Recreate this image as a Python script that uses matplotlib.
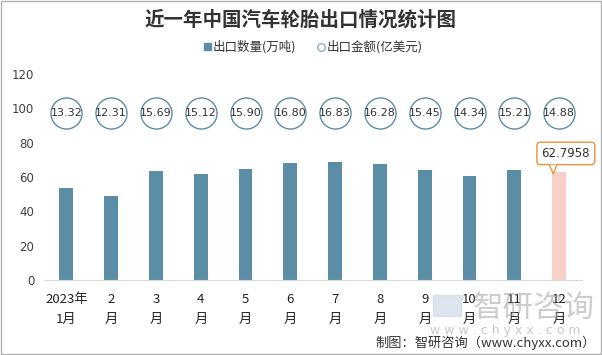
import matplotlib
matplotlib.use("Agg")
import matplotlib.pyplot as plt
from matplotlib.patches import Rectangle, Polygon
import numpy as np

plt.rcParams['font.family'] = ['Noto Sans CJK SC', 'DejaVu Sans']

months = ["2023年\n1月", "2\n月", "3\n月", "4\n月", "5\n月", "6\n月", "7\n月", "8\n月", "9\n月", "10\n月", "11\n月", "12\n月"]
quantity = [53.6, 48.9, 63.5, 61.7, 64.7, 68.1, 68.7, 67.6, 64.1, 60.6, 64.1, 62.7958]
amount = [13.32, 12.31, 15.69, 15.12, 15.90, 16.80, 16.83, 16.28, 15.45, 14.34, 15.21, 14.88]
amount_labels = ["13.32", "12.31", "15.69", "15.12", "15.90", "16.80", "16.83", "16.28", "15.45", "14.34", "15.21", "14.88"]
yticks = [0, 20, 40, 60, 80, 100, 120]

bar_color = "#5b8ea6"
last_color = "#f8d0c8"
circle_y = 97

fig = plt.figure(figsize=(6.02, 3.55), dpi=100)
ax = fig.add_axes([0.073, 0.211, 0.893, 0.581])

x = np.arange(len(months))
colors = [bar_color] * (len(months) - 1) + [last_color]
ax.bar(x, quantity, width=0.31, color=colors, zorder=2)

ax.scatter(x, [circle_y] * len(x), s=500, facecolor="white", edgecolor="#5b8ea6", linewidth=1.0, zorder=3)
for xi, lab in zip(x, amount_labels):
    ax.text(xi, circle_y, lab, ha="center", va="center", fontsize=8, color="#333333", zorder=4,
            family=['DejaVu Sans'])

ax.set_xlim(-0.5, len(months) - 0.5)
ax.set_ylim(0, 120)
ax.set_yticks(yticks)
ax.set_yticklabels([str(v) for v in yticks], fontsize=8.5, color="#404040", family=['DejaVu Sans'])
ax.set_xticks(x)
ax.set_xticklabels(months, fontsize=9.5, color="#222222", linespacing=1.75)
ax.tick_params(axis='both', length=0)
ax.tick_params(axis='y', pad=7)
ax.tick_params(axis='x', pad=9)
for s in ["top", "right", "left"]:
    ax.spines[s].set_visible(False)
ax.spines["bottom"].set_color("#d9d9d9")

# callout for last bar
last = len(months) - 1
orange = "#e8923a"
cx, cy = last - 0.85 + 1.0, quantity[-1] + 10.9
ax.text(cx, cy, f"{quantity[-1]:.4f}", ha="center", va="center", fontsize=8.5, color="#333333",
        family=['DejaVu Sans'], zorder=5, clip_on=False,
        bbox=dict(boxstyle="round,pad=0.4,rounding_size=0.3", fc="white", ec=orange, lw=1.0))
base_y = cy - 6.55
tri = [(last - 0.22, base_y), (last - 0.05, base_y), (last - 0.13, quantity[-1] - 1.0)]
ax.add_patch(Polygon(tri, closed=True, fc="white", ec="none", zorder=6, clip_on=False))
ax.plot([tri[0][0], tri[2][0], tri[1][0]], [tri[0][1], tri[2][1], tri[1][1]], color=orange, lw=1.0,
        zorder=7, clip_on=False, solid_joinstyle='miter')

# title
fig.text(0.5, 0.943, "近一年中国汽车轮胎出口情况统计图", ha="center", va="center", fontsize=14,
         fontweight="bold", color="#333333")

# legend
fig.patches.append(Rectangle((0.339, 0.858), 0.012, 0.022, transform=fig.transFigure, color=bar_color))
fig.text(0.353, 0.869, "出口数量(万吨)", ha="left", va="center", fontsize=9, color="#333333")
fig.lines.append(plt.Line2D([0.533], [0.869], marker='o', markersize=5.5, markerfacecolor='white',
                            markeredgecolor="#8ab0c4", transform=fig.transFigure, linestyle='none'))
fig.text(0.543, 0.869, "出口金额(亿美元)", ha="left", va="center", fontsize=9, color="#333333")

# watermark
fig.text(0.785, 0.13, "智研咨询", ha="left", va="center", fontsize=22, color="#9a9a9a", alpha=0.5)
fig.text(0.715, 0.07, "w w w . c h y x x . c o m", ha="left", va="center", fontsize=9, color="#b0b0b0", alpha=0.7,
         family=['DejaVu Sans'])
fig.patches.append(Rectangle((0.72, 0.11), 0.045, 0.06, transform=fig.transFigure, color="#c8d4e4", alpha=0.6))

# source
fig.text(0.99, 0.033, "制图：智研咨询（www.chyxx.com）", ha="right", va="center", fontsize=9.5, color="#333333")

# frame
fig.patches.append(Rectangle((0.001, 0.002), 0.997, 0.996, transform=fig.transFigure, fill=False,
                             ec="#b0b0b0", lw=1.0))

fig.savefig("out.png", dpi=100)
